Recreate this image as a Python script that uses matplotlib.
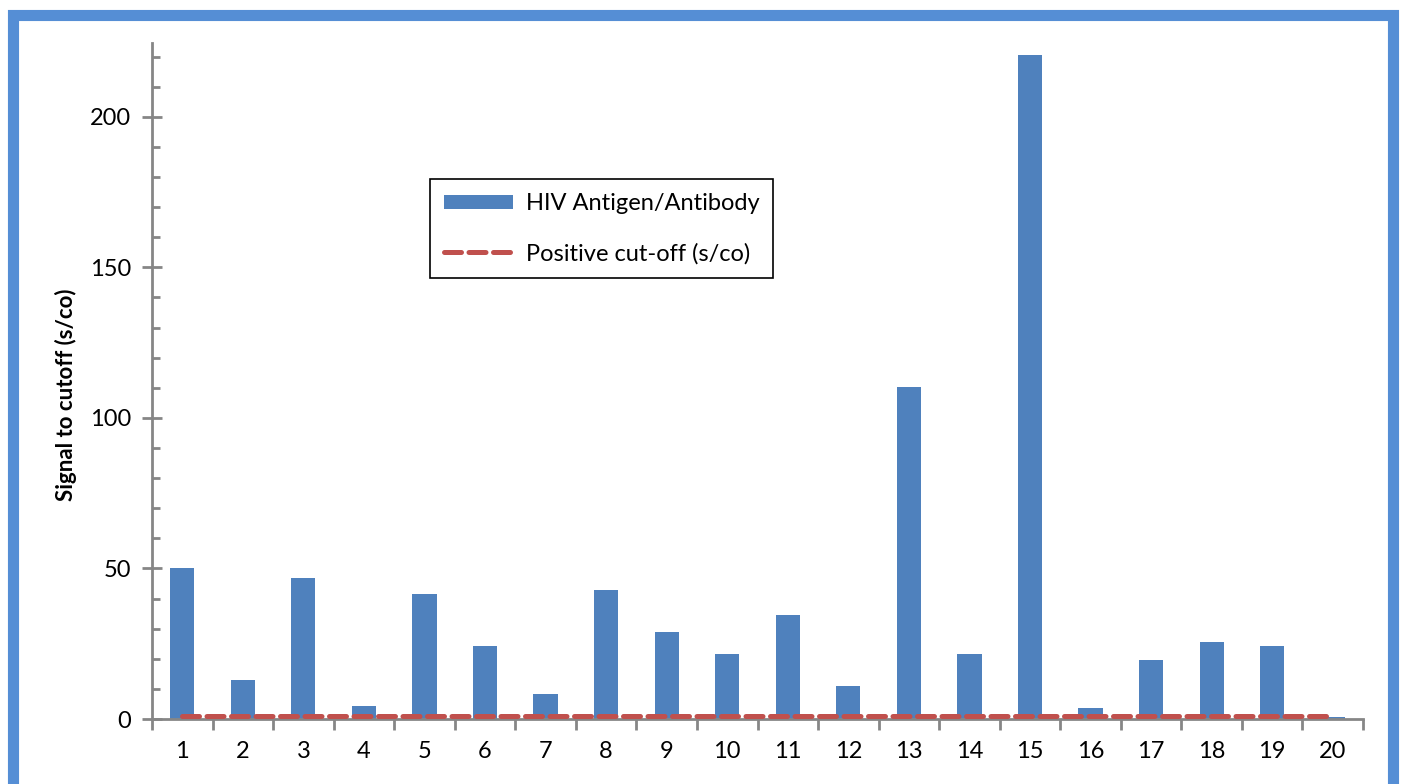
import numpy as np
import matplotlib.pyplot as plt
from matplotlib.patches import Rectangle
from matplotlib.ticker import MultipleLocator, FixedLocator

plt.rcParams['font.family'] = ['Lato', 'DejaVu Sans']

samples = list(range(1, 21))
signal = [50.3, 13.0, 46.9, 4.3, 41.6, 24.4, 8.3, 43.0, 29.0, 21.7,
          34.4, 11.0, 110.2, 21.7, 220.5, 3.6, 19.7, 25.7, 24.4, 0.5]
cutoff = [1.0] * 20

bar_color = '#4F81BD'
line_color = '#C0504D'
axis_color = '#868686'

fig = plt.figure(figsize=(14.02, 7.84), dpi=100)
ax = fig.add_axes([152 / 1402, 65 / 784, 1211 / 1402, 676 / 784])

x = np.arange(1, 21)
bars = ax.bar(x, signal, width=0.4, color=bar_color, zorder=2)
line, = ax.plot(x, cutoff, color=line_color, lw=3.6, linestyle=(0, (3.4, 1.5)),
                dash_capstyle='round', zorder=3)

ax.set_xlim(0.5, 20.5)
ax.set_ylim(0, 224.5)

for s in ['top', 'right']:
    ax.spines[s].set_visible(False)
for s in ['left', 'bottom']:
    ax.spines[s].set_color(axis_color)
    ax.spines[s].set_linewidth(2)

# x: boundary ticks, labels at centres
ax.xaxis.set_major_locator(FixedLocator(np.arange(0.5, 21, 1)))
ax.xaxis.set_minor_locator(FixedLocator(x))
ax.set_xticklabels([])
ax.set_xticklabels([str(s) for s in samples], minor=True)
ax.tick_params(axis='x', which='major', direction='out', length=8, width=2, color=axis_color)
ax.tick_params(axis='x', which='minor', length=0, pad=16, labelsize=17)

ax.yaxis.set_major_locator(MultipleLocator(50))
ax.yaxis.set_minor_locator(MultipleLocator(10))
ax.tick_params(axis='y', which='major', direction='inout', length=14, width=2,
               color=axis_color, labelsize=17, pad=8)
ax.tick_params(axis='y', which='minor', direction='in', length=6, width=2, color=axis_color)

ax.set_ylabel('Signal to cutoff (s/co)', fontsize=16, fontweight='bold')
ax.yaxis.set_label_coords(-0.062, 0.479)

leg = ax.legend([bars, line], ['HIV Antigen/Antibody', 'Positive cut-off (s/co)'],
                loc='upper left', bbox_to_anchor=(0.2296, 0.7985), fontsize=17,
                frameon=True, fancybox=False, edgecolor='black', framealpha=1,
                handlelength=2.9, handleheight=0.55, labelspacing=1.2,
                borderpad=0.6, handletextpad=0.55, borderaxespad=0)
leg.get_frame().set_linewidth(1.2)

# blue outer border
fig.patches.append(Rectangle((13 / 1402, -0.02), 1379.5 / 1402, (784 - 15) / 784 + 0.02,
                             transform=fig.transFigure, fill=False,
                             edgecolor='#558ED5', linewidth=8, zorder=10))

fig.savefig('out.png', dpi=100)
